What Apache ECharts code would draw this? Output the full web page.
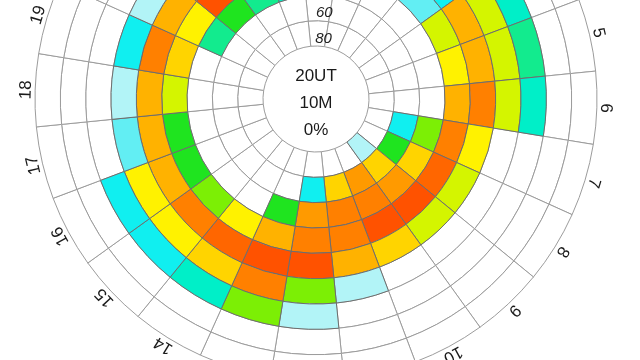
<!DOCTYPE html>
<html>
<head>
<meta charset="utf-8">
<script src="https://cdn.jsdelivr.net/npm/echarts@6/dist/echarts.min.js"></script>
<style>html,body{margin:0;padding:0;background:#fff}#chart{width:640px;height:360px}</style>
</head>
<body>
<div id="chart"></div>
<script>
// Hour (UT) categories around the dial
const hours = ['0','1','2','3','4','5','6','7','8','9','10','11','12','13','14','15','16','17','18','19','20','21','22','23'];
// Radial tick labels (innermost rings)
const ringTicks = ['80', '60'];
const ringIds = ['r0','r1','r2','r3','r4','r5','r6','r7','r8'];
const centerLines = ['20UT', '10M', '0%'];

// Level per hour (0..23) for each ring, innermost ring first (0 = blank)
const ring0 = [0,0,0,0,0,0,0,0,0,8,0,0,0,0,0,0,0,0,0,0,0,0,0,0];
const ring1 = [0,0,0,0,0,0,0,17,32,52,62,52,17,0,0,0,0,0,0,0,0,0,0,0];
const ring2 = [8,0,0,0,0,0,0,37,52,62,67,67,62,32,0,0,0,0,0,0,27,32,26,22];
const ring3 = [32,22,8,12,42,47,57,67,72,75,75,67,67,57,47,37,32,32,42,52,47,75,62,42];
const ring4 = [42,32,22,17,57,55,67,47,42,42,52,57,75,75,72,67,57,57,57,67,57,67,57,47];
const ring5 = [32,27,22,37,42,42,42,0,0,0,0,8,37,67,52,47,47,12,8,17,8,47,42,37];
const ring6 = [8,12,17,22,22,27,22,0,0,0,0,0,8,37,22,17,17,0,0,0,0,17,12,8];
const ring7 = [0,0,0,0,0,0,0,0,0,0,0,0,0,0,0,0,0,0,0,0,0,0,0,0];
const ring8 = [0,0,0,0,0,0,0,0,0,0,0,0,0,0,0,0,0,0,0,0,0,0,0,0];

const rings = [ring0, ring1, ring2, ring3, ring4, ring5, ring6, ring7, ring8];
const cells = [];
rings.forEach((vals, k) => vals.forEach((v, h) => cells.push([k, h, v])));
cells.sort((a, b) => (a[2] > 0) - (b[2] > 0));

function renderCell(params, api) {
  const cs = params.coordSys;
  const c = api.coord([api.value(0), api.value(1)]);
  const size = api.size([1, 1]);
  const r = Math.hypot(c[0] - cs.cx, c[1] - cs.cy);
  const a = Math.atan2(cs.cy - c[1], c[0] - cs.cx);
  const dr = size[0] / 2, da = size[1] / 2;
  return {
    type: 'sector',
    shape: { cx: cs.cx, cy: cs.cy, r0: r - dr, r: r + dr, startAngle: -(a + da), endAngle: -(a - da), clockwise: true },
    style: { fill: api.visual('color'), stroke: api.value(2) > 0 ? '#6e6e6e' : '#9c9c9c', lineWidth: 1 }
  };
}

function renderHour(params, api) {
  const cs = params.coordSys;
  const h = api.value(1);
  const c = api.coord([0, h]);
  const a = Math.atan2(cs.cy - c[1], c[0] - cs.cx);
  const R = cs.r + 9;
  return {
    type: 'text',
    x: cs.cx + R * Math.cos(a),
    y: cs.cy - R * Math.sin(a),
    rotation: a - Math.PI / 2,
    style: { text: hours[h], font: '17px "Liberation Sans", Arial, sans-serif', fill: '#1a1a1a', align: 'center', verticalAlign: 'middle' }
  };
}

function renderTick(params, api) {
  const k = api.value(0);
  const c = api.coord([k, 0]);
  return {
    type: 'text',
    x: c[0] + 5.5,
    y: c[1] + 5,
    style: { text: ringTicks[k], font: 'italic 15px "Liberation Sans", Arial, sans-serif', fill: '#222', align: 'center', verticalAlign: 'middle' }
  };
}

const chart = echarts.init(document.getElementById('chart'), null, { renderer: 'canvas' });
chart.setOption({
  animation: false,
  backgroundColor: '#ffffff',
  polar: { center: [316, 99], radius: [53, 281] },
  angleAxis: {
    type: 'category', data: hours, startAngle: 95.7, clockwise: true,
    axisLine: { show: false }, axisTick: { show: false }, axisLabel: { show: false }, splitLine: { show: false }
  },
  radiusAxis: {
    type: 'category', data: ringIds,
    axisLine: { show: false }, axisTick: { show: false }, axisLabel: { show: false }, splitLine: { show: false }
  },
  visualMap: {
    type: 'piecewise', show: false, dimension: 2, seriesIndex: 0,
    pieces: [
      { gte: 0, lt: 5, color: '#ffffff' },
      { gte: 5, lt: 10, color: '#b2f4f7' },
      { gte: 10, lt: 15, color: '#62eef3' },
      { gte: 15, lt: 20, color: '#10eff0' },
      { gte: 20, lt: 25, color: '#00efc8' },
      { gte: 25, lt: 30, color: '#12eb8e' },
      { gte: 30, lt: 35, color: '#1fe41f' },
      { gte: 35, lt: 40, color: '#7cef05' },
      { gte: 40, lt: 45, color: '#d4f500' },
      { gte: 45, lt: 50, color: '#fff200' },
      { gte: 50, lt: 55, color: '#ffd400' },
      { gte: 55, lt: 60, color: '#ffb200' },
      { gte: 60, lt: 65, color: '#ff9a00' },
      { gte: 65, lt: 70, color: '#ff8000' },
      { gte: 70, lt: 74, color: '#ff6600' },
      { gte: 74, lte: 100, color: '#ff5200' }
    ]
  },
  graphic: centerLines.map((t, i) => ({
    type: 'text', x: 316, y: 76 + i * 27,
    style: { text: t, font: '17px "Liberation Sans", Arial, sans-serif', fill: '#1a1a1a', align: 'center', verticalAlign: 'middle' }
  })),
  series: [
    { type: 'custom', coordinateSystem: 'polar', data: cells, encode: { radius: 0, angle: 1 }, renderItem: renderCell, silent: true },
    { type: 'custom', coordinateSystem: 'polar', data: hours.map((h, i) => [0, i]), encode: { radius: 0, angle: 1 }, renderItem: renderHour, silent: true },
    { type: 'custom', coordinateSystem: 'polar', data: ringTicks.map((t, k) => [k, 0]), encode: { radius: 0, angle: 1 }, renderItem: renderTick, silent: true, z: 5 }
  ]
});
</script>
</body>
</html>
